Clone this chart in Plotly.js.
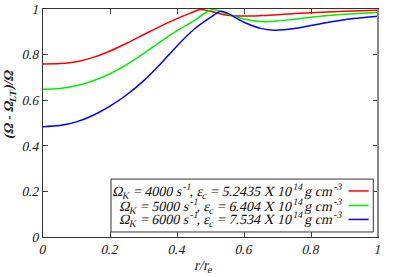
<!DOCTYPE html>
<html><head><meta charset="utf-8">
<script src="https://cdn.plot.ly/plotly-3.0.1.min.js"></script>
<style>html,body{margin:0;padding:0;background:#fff}#c{width:396px;height:277px}</style>
</head><body><div id="c"></div>
<script>
const xRed   = [0, 0.05, 0.1, 0.15, 0.2, 0.25, 0.3, 0.35, 0.4, 0.44, 0.47, 0.5, 0.55, 0.6, 0.65, 0.7, 0.8, 0.9, 1.0];
const yRed   = [0.759, 0.761, 0.769, 0.788, 0.816, 0.85, 0.887, 0.924, 0.958, 0.982, 0.998, 0.99, 0.973, 0.969, 0.971, 0.975, 0.984, 0.99, 0.995];
const xGreen = [0, 0.05, 0.1, 0.15, 0.2, 0.25, 0.3, 0.35, 0.4, 0.45, 0.49, 0.51, 0.55, 0.6, 0.65, 0.7, 0.75, 0.8, 0.9, 1.0];
const yGreen = [0.648, 0.651, 0.663, 0.685, 0.716, 0.756, 0.804, 0.856, 0.905, 0.948, 0.988, 0.998, 0.978, 0.956, 0.945, 0.947, 0.955, 0.964, 0.977, 0.985];
const xBlue  = [0, 0.05, 0.1, 0.15, 0.2, 0.25, 0.3, 0.35, 0.4, 0.45, 0.5, 0.53, 0.55, 0.6, 0.65, 0.69, 0.75, 0.8, 0.9, 1.0];
const yBlue  = [0.484, 0.489, 0.505, 0.534, 0.574, 0.624, 0.685, 0.758, 0.838, 0.91, 0.963, 0.99, 0.982, 0.942, 0.915, 0.907, 0.914, 0.928, 0.953, 0.968];
const labels = [
  "Ω<sub>K</sub> = 4000 s<sup>-1</sup>, ε<sub>c</sub> = 5.2435 X 10<sup>14</sup> g cm<sup>-3</sup>",
  "Ω<sub>K</sub> = 5000 s<sup>-1</sup>, ε<sub>c</sub> = 6.404 X 10<sup>14</sup> g cm<sup>-3</sup>",
  "Ω<sub>K</sub> = 6000 s<sup>-1</sup>, ε<sub>c</sub> = 7.534 X 10<sup>14</sup> g cm<sup>-3</sup>"
];
const colors = ["#ff0000", "#00ee00", "#0000ff"];
const tickVals = [0, 0.2, 0.4, 0.6, 0.8, 1];
const tickText = ["0", "0.2", "0.4", "0.6", "0.8", "1"];
const xTitle = "r/r<sub>e</sub>";
const yTitle = "<b>(Ω - Ω<sub>LT</sub>)/Ω</b>";

const series = [[xRed, yRed], [xGreen, yGreen], [xBlue, yBlue]];
const traces = series.map((s, i) => ({
  x: s[0], y: s[1], type: 'scatter', mode: 'lines', name: labels[i],
  line: {color: colors[i], width: 1.5, shape: 'spline', smoothing: 0.8},
  showlegend: false
}));

const FAM = 'Liberation Serif';
const axisBase = {
  range: [0, 1], tickvals: tickVals, ticktext: tickText, ticks: 'inside', ticklen: 5,
  tickcolor: '#444', showline: true, linecolor: '#333', linewidth: 1, mirror: 'ticks',
  showgrid: false, zeroline: false, tickfont: {family: FAM, size: 13.5, color: '#222'}
};

const ann = [];
const shapes = [];
const rowY = [0.202, 0.138, 0.077];
labels.forEach((t, i) => {
  ann.push({xref: 'paper', yref: 'paper', x: 0.897, y: rowY[i], xanchor: 'right', yanchor: 'middle',
    text: t, showarrow: false, font: {family: FAM, size: 14, color: '#111'}});
  shapes.push({type: 'line', xref: 'paper', yref: 'paper', x0: 0.912, x1: 0.972, y0: rowY[i], y1: rowY[i],
    line: {color: colors[i], width: 1.5}});
});
ann.push({xref: 'paper', yref: 'paper', x: 0.483, y: -0.128, xanchor: 'center', yanchor: 'middle',
  text: xTitle, showarrow: false, font: {family: FAM, size: 14.5, color: '#222'}});
ann.push({xref: 'paper', yref: 'paper', x: -0.1, y: 0.58, xanchor: 'center', yanchor: 'middle', textangle: -90,
  text: yTitle, showarrow: false, font: {family: FAM, size: 13.5, color: '#222'}});
shapes.push({type: 'rect', xref: 'paper', yref: 'paper', x0: 0.203, x1: 0.986, y0: 0.022, y1: 0.254,
  line: {color: '#333', width: 1}, fillcolor: 'rgba(0,0,0,0)'});
shapes.push({type: 'line', xref: 'paper', yref: 'paper', x0: 1, x1: 1, y0: 0, y1: 1, line: {color: '#888', width: 2}});

const layout = {
  width: 396, height: 277, margin: {l: 43, r: 18, t: 9, b: 40},
  paper_bgcolor: '#fff', plot_bgcolor: '#fff', font: {family: FAM, size: 13, color: '#222'},
  xaxis: axisBase, yaxis: Object.assign({}, axisBase),
  annotations: ann, shapes: shapes, showlegend: false
};
Plotly.newPlot('c', traces, layout, {staticPlot: true, displayModeBar: false}).then(gd => {
  // slant the text to mimic the reference's italic labels
  gd.querySelectorAll('text').forEach(t => {
    const b = t.getBBox();
    const cx = b.x + b.width / 2, cy = b.y + b.height / 2;
    const old = t.getAttribute('transform') || '';
    t.setAttribute('transform', old + ' translate(' + cx + ',' + cy + ') skewX(-13) translate(' + (-cx) + ',' + (-cy) + ')');
  });
});
</script></body></html>
